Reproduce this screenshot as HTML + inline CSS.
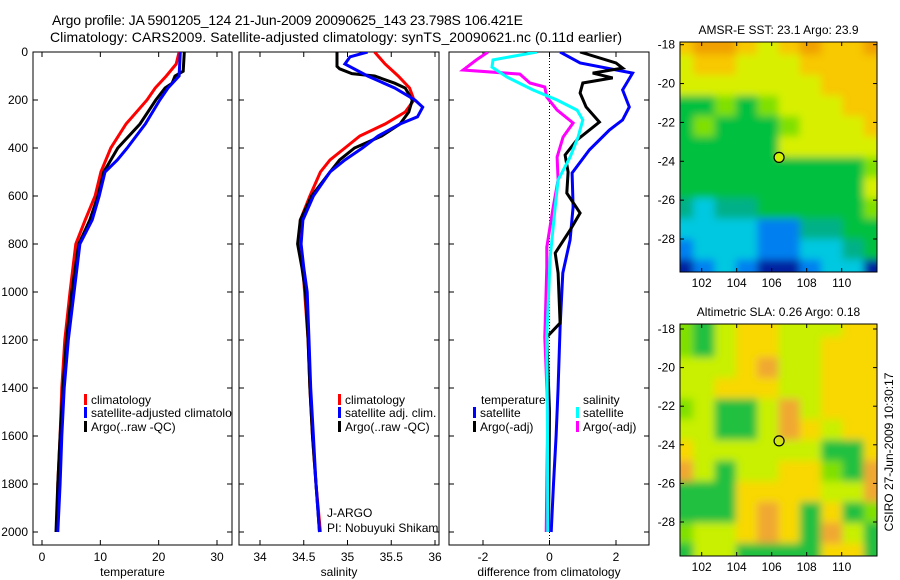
<!DOCTYPE html>
<html><head><meta charset="utf-8"><style>
html,body{margin:0;padding:0;background:#fff;}
svg{display:block;font-family:"Liberation Sans",sans-serif;}
text{font-size:12px;fill:#000;}
</style></head><body>
<svg id="fig" width="900" height="580" viewBox="0 0 900 580" xmlns="http://www.w3.org/2000/svg">
<defs>
<filter id="bl" filterUnits="userSpaceOnUse" x="650" y="20" width="250" height="560"><feGaussianBlur stdDeviation="4"/></filter>
<clipPath id="c1"><rect x="33" y="52" width="199" height="493"/></clipPath>
<clipPath id="c2"><rect x="239" y="52" width="200" height="493"/></clipPath>
<clipPath id="c3"><rect x="449" y="52" width="200" height="493"/></clipPath>
<clipPath id="m1"><rect x="680" y="42" width="197" height="230"/></clipPath>
<clipPath id="m2"><rect x="680" y="324" width="197" height="232"/></clipPath>
</defs>
<text x="52" y="25" style="font-size:14px" textLength="471">Argo profile: JA 5901205_124 21-Jun-2009 20090625_143 23.798S 106.421E</text>
<text x="50" y="42" style="font-size:14px" textLength="572">Climatology: CARS2009. Satellite-adjusted climatology: synTS_20090621.nc (0.11d earlier)</text>
<g id="g"></g>
<text transform="translate(893,452) rotate(-90)" text-anchor="middle">CSIRO 27-Jun-2009 10:30:17</text>
</svg>
<script>
// ---- data ----
const depthT = [0,50,100,150,200,300,400,500,600,700,800,900,1000,1200,1400,1600,1800,2000];
const tempClim = [23.5,23.0,21.3,19.4,18.0,14.4,11.8,10.1,9.1,7.4,5.8,5.3,4.8,3.9,3.4,3.1,2.7,2.6];
const depthTS = [0,100,150,200,300,400,450,500,600,700,800,900,1000,1200,1400,1600,1800,2000];
const tempSat = [23.7,23.5,21.6,20.2,17.7,14.6,12.9,10.8,9.8,8.6,6.5,6.0,5.5,4.5,3.8,3.4,3.1,2.7];
const depthTA = [0,80,100,130,150,200,300,400,500,600,700,800,900,1000,1200,1400,1600,1800,2000];
const tempArgo = [24.4,24.2,22.8,22.3,21.1,19.5,16.8,13.0,10.6,9.6,8.2,6.3,5.7,5.1,4.2,3.6,3.1,2.7,2.4];

const depthS = [0,50,100,150,200,250,300,350,400,450,500,600,700,800,900,1000,1200,1400,1600,1800,2000];
const salClim = [35.31,35.43,35.58,35.71,35.76,35.66,35.43,35.14,34.97,34.80,34.69,34.57,34.46,34.46,34.49,34.51,34.55,34.57,34.6,34.64,34.69];
const depthSS = [0,20,50,100,150,200,230,270,300,350,400,450,500,600,700,800,900,1000,1200,1400,1600,1800,2000];
const salSat = [35.23,35.03,34.97,35.23,35.54,35.77,35.86,35.8,35.6,35.35,35.17,34.97,34.8,34.61,34.49,34.47,34.5,34.54,34.56,34.58,34.61,34.64,34.68];
const depthSA = [0,60,70,90,100,130,150,200,250,300,350,400,450,500,600,700,800,900,1000,1200,1400,1600,1800,2000];
const salArgo = [34.88,34.88,34.91,35.05,35.31,35.54,35.66,35.74,35.7,35.6,35.39,35.08,34.91,34.8,34.59,34.46,34.43,34.48,34.52,34.55,34.57,34.6,34.64,34.68];

const depthDB = [0,46,88,158,229,283,325,408,504,646,783,921,1146,1400,1600,1800,2000];
const diffTempSat = [0.32,0.92,2.5,2.2,2.4,2.2,1.8,1.2,0.68,0.71,0.62,0.4,0.32,0.26,0.2,0.12,0.05];
const depthDK = [0,46,67,88,108,129,171,229,292,367,429,500,588,671,742,838,921,1129,1188,1500,2000];
const diffTempArgo = [0.92,2.0,2.2,1.3,1.9,1.0,0.92,1.1,1.5,0.82,0.47,0.56,0.52,0.92,0.62,0.17,0.26,0.32,-0.08,0.0,-0.03];
const depthDC = [0,33,63,104,158,200,242,283,354,438,533,646,854,1188,1600,2000];
const diffSalSat = [-0.38,-1.7,-1.73,-1.28,-0.5,0.23,0.83,1.0,0.86,0.62,0.26,0.17,0.02,-0.08,-0.06,-0.05];
const depthDM = [0,33,75,92,129,146,188,242,296,354,438,533,646,813,896,1188,1500,2000];
const diffSalArgo = [-1.85,-2.2,-2.6,-0.89,-0.59,-0.14,-0.08,0.23,0.71,0.41,0.23,0.26,0.11,-0.08,-0.08,-0.14,-0.05,-0.1];

const depthTicks = [0,200,400,600,800,1000,1200,1400,1600,1800,2000];
const tempTicks = [0,10,20,30];
const salTicks = [34,34.5,35,35.5,36];
const salTickLabels = ["34","34.5","35","35.5","36"];
const diffTicks = [-2,0,2];

const mapLonTicks = [102,104,106,108,110];
const mapLatTicks = [-18,-20,-22,-24,-26,-28];
const argoLon = 106.421, argoLat = -23.798;
const sstGrid = [
"YOOYLYOYYO","LYYLLLYYYY","LLLLLLLYYY","DDGDGLLLYY","DGDDDGLLLY","DDDDDLLLLL",
"DDDDDDDDDG","DDDDDDDDDL","TCTTDDDDDG","CCCCBBTTDD","BCCCBBCCTD","NBCBNNBCCN"];
const slaGrid = [
"GDLYYLLLYY","GDLYYLLYYY","LLLYOLLYYY","LLYYYLLYYY","GLDDLOLYYY","LLDDLOYLYY",
"YLLLLLLDDY","OLDLLYYGDO","DDDYYYYLLO","DDDYOYDYDG","GLLYOYDOLD","DLLDDDDYYD"];
const sstColors = {O:"#f0a000",Y:"#f8c800",L:"#d8f000",G:"#80e000",D:"#00c040",T:"#00b088",C:"#00c8e0",B:"#0080f0",N:"#0020a0"};
const slaColors = {O:"#f0a830",Y:"#f8d800",L:"#c8f000",G:"#80e000",D:"#20c040"};

// ---- drawing ----
const NS="http://www.w3.org/2000/svg";
const G=document.getElementById('g');
function el(tag,attrs,parent){const e=document.createElementNS(NS,tag);for(const k in attrs)e.setAttribute(k,attrs[k]);(parent||G).appendChild(e);return e;}
const Y0=52,Y1=545;
const yD = d => 52 + d*0.24;
function linX(d0,d1,p0,p1){return v=>p0+(v-d0)*(p1-p0)/(d1-d0);}
const panels=[
 {x0:33,x1:232,xs:linX(0,30,42,217),ticks:tempTicks,labels:tempTicks.map(String),label:"temperature",clip:"c1",name:"temperature"},
 {x0:239,x1:439,xs:linX(34,36,260,435),ticks:salTicks,labels:salTickLabels,label:"salinity",clip:"c2",name:"salinity"},
 {x0:449,x1:649,xs:linX(-3,3,449.75,649.25),ticks:diffTicks,labels:diffTicks.map(String),label:"difference from climatology",clip:"c3",name:"difference"}
];
function series(p,depths,vals,color,name){
  const pts=depths.map((d,i)=>p.xs(vals[i]).toFixed(1)+","+yD(d).toFixed(1)).join(" ");
  const pl=el('polyline',{points:pts,fill:'none',stroke:color,'stroke-width':3,'clip-path':'url(#'+p.clip+')'});
  
  
}
panels.forEach((p,pi)=>{
  const r=el('rect',{x:p.x0,y:Y0,width:p.x1-p.x0,height:Y1-Y0,fill:'none',stroke:'#000','stroke-width':1});
  
  
  depthTicks.forEach(d=>{
    const y=yD(d);
    el('line',{x1:p.x0,x2:p.x0+5,y1:y,y2:y,stroke:'#000'});
    el('line',{x1:p.x1-5,x2:p.x1,y1:y,y2:y,stroke:'#000'});
    if(pi===0){const t=el('text',{x:28,y:y+4,'text-anchor':'end'});t.textContent=d;
      
      }
  });
  p.ticks.forEach((v,i)=>{
    const x=p.xs(v);
    el('line',{x1:x,x2:x,y1:Y0,y2:Y0+5,stroke:'#000'});
    el('line',{x1:x,x2:x,y1:Y1-5,y2:Y1,stroke:'#000'});
    const t=el('text',{x:x,y:561,'text-anchor':'middle'});t.textContent=p.labels[i];
    
    
  });
  const t=el('text',{x:(p.x0+p.x1)/2,y:576,'text-anchor':'middle'});t.textContent=p.label;
  
  
});
const P1=panels[0],P2=panels[1],P3=panels[2];
series(P1,depthT,tempClim,'#ff0000','temp-climatology-line');
series(P1,depthTA,tempArgo,'#000','temp-argo-line');
series(P1,depthTS,tempSat,'#0000ff','temp-satellite-line');
series(P2,depthS,salClim,'#ff0000','sal-climatology-line');
series(P2,depthSA,salArgo,'#000','sal-argo-line');
series(P2,depthSS,salSat,'#0000ff','sal-satellite-line');
const zl=el('line',{x1:P3.xs(0),x2:P3.xs(0),y1:Y0,y2:Y1,stroke:'#000','stroke-dasharray':'1,2'});


series(P3,depthDB,diffTempSat,'#0000ff','diff-temp-satellite-line');
series(P3,depthDK,diffTempArgo,'#000','diff-temp-argo-line');
series(P3,depthDM,diffSalArgo,'#ff00ff','diff-sal-argo-line');
series(P3,depthDC,diffSalSat,'#00ffff','diff-sal-satellite-line');

function legend(x,y,color,txt,clip){
  if(color){const m=el('rect',{x:x,y:y-6,width:3,height:11,fill:color});
    
    }
  const t=el('text',{x:x+7,y:y+4});t.textContent=txt;
  if(clip)t.setAttribute('clip-path','url(#'+clip+')');
  
  
}
legend(84,400,'#ff0000','climatology','c1');
legend(84,413,'#0000ff','satellite-adjusted climatology','c1');
legend(84,427,'#000','Argo(..raw -QC)','c1');
legend(338,400,'#ff0000','climatology','c2');
legend(338,413,'#0000ff','satellite adj. clim.','c2');
legend(338,427,'#000','Argo(..raw -QC)','c2');
legend(474,400,null,'temperature','c3');
legend(473,413,'#0000ff','satellite','c3');
legend(473,427,'#000','Argo(-adj)','c3');
legend(576,400,null,'salinity','c3');
legend(576,413,'#00ffff','satellite','c3');
legend(576,427,'#ff00ff','Argo(-adj)','c3');
legend(320,513,null,'J-ARGO','c2');
legend(320,528,null,'PI: Nobuyuki Shikama','c2');

// maps
function drawMap(top,bottom,latAt18,latAt28,grid,colors,clip,title,fillC,name){
  const x0=680,x1=877;
  const lonX=linX(102,110,701.7,841.7);
  const latY=linX(-18,-28,latAt18,latAt28);
  const g=el('g',{'clip-path':'url(#'+clip+')'});
  
  
  const g2=el('g',{filter:'url(#bl)'},g);
  const rows=grid.length,cols=grid[0].length;
  const cw=(x1-x0+16)/cols,ch=(bottom-top+16)/rows;
  for(let r=0;r<rows;r++)for(let c=0;c<cols;c++)
    el('rect',{x:x0-8+c*cw,y:top-8+r*ch,width:cw+0.5,height:ch+0.5,fill:colors[grid[r][c]]},g2);
  el('rect',{x:x0,y:top,width:x1-x0,height:bottom-top,fill:'none',stroke:'#000'});
  mapLonTicks.forEach(v=>{const x=lonX(v);
    el('line',{x1:x,x2:x,y1:top,y2:top+4,stroke:'#000'});
    el('line',{x1:x,x2:x,y1:bottom-4,y2:bottom,stroke:'#000'});
    const t=el('text',{x:x,y:bottom+15,'text-anchor':'middle'});t.textContent=v;
    
    });
  mapLatTicks.forEach(v=>{const y=latY(v);
    el('line',{x1:x0,x2:x0+4,y1:y,y2:y,stroke:'#000'});
    el('line',{x1:x1-4,x2:x1,y1:y,y2:y,stroke:'#000'});
    const t=el('text',{x:675,y:y+4,'text-anchor':'end'});t.textContent=v;
    
    });
  const c=el('circle',{cx:lonX(argoLon),cy:latY(argoLat),r:5,fill:fillC,stroke:'#000','stroke-width':1.2});
  
  
  const t=el('text',{x:(x0+x1)/2,y:top-8,'text-anchor':'middle'});t.textContent=title;
  
  
}
drawMap(42,272,44.7,239,sstGrid,sstColors,'m1','AMSR-E SST: 23.1 Argo: 23.9','#d0f000','sst');
drawMap(324,556,329,522,slaGrid,slaColors,'m2','Altimetric SLA: 0.26 Argo: 0.18','none','sla');
</script>
</body></html>
